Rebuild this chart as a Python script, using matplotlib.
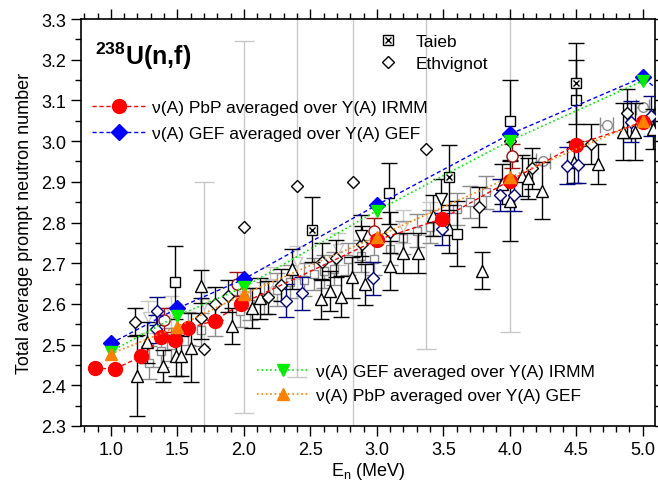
import numpy as np
import matplotlib.pyplot as plt
from matplotlib.lines import Line2D
from matplotlib.ticker import MultipleLocator

plt.rcParams['font.family'] = ['Liberation Sans', 'DejaVu Sans']
plt.rcParams['mathtext.fontset'] = 'custom'
plt.rcParams['mathtext.rm'] = 'Liberation Sans'
plt.rcParams['mathtext.bf'] = 'Liberation Sans:bold'

# ---- model curves ----
red_E = [0.88, 1.03, 1.23, 1.38, 1.48, 1.58, 1.78, 1.98, 3.0, 3.49, 4.0, 4.5, 5.0]
red_v = [2.442, 2.440, 2.471, 2.518, 2.512, 2.540, 2.559, 2.600, 2.757, 2.809, 2.903, 2.991, 3.046]
blue_E = [1.0, 1.5, 2.0, 3.0, 4.0, 5.0, 5.5]
blue_v = [2.503, 2.589, 2.661, 2.843, 3.017, 3.157, 3.02]
green_E = [1.0, 1.5, 2.0, 3.0, 4.0, 5.0]
green_v = [2.483, 2.571, 2.641, 2.829, 3.001, 3.148]
orange_E = [1.0, 1.5, 2.0, 3.0, 4.0, 5.0]
orange_v = [2.477, 2.544, 2.624, 2.765, 2.911, 3.050]

# ---- experimental data ----
tri_E = [1.20, 1.27, 1.39, 1.49, 1.53, 1.60, 1.68, 1.91, 2.06, 2.12, 2.36, 2.58, 2.65, 2.73,
         2.81, 2.91, 3.10, 3.20, 3.31, 3.42, 3.54, 3.79, 3.94, 4.00, 4.09, 4.14, 4.24, 4.48,
         4.66, 4.85, 4.94, 5.08]
tri_v = [2.424, 2.506, 2.447, 2.473, 2.472, 2.492, 2.643, 2.546, 2.590, 2.614, 2.686, 2.612,
         2.632, 2.618, 2.665, 2.648, 2.694, 2.725, 2.725, 2.817, 2.784, 2.682, 2.895, 2.854,
         2.915, 2.909, 2.878, 2.948, 2.944, 3.023, 3.023, 3.030]
tri_err = [0.10, 0.05, 0.04, 0.05, 0.05, 0.085, 0.04, 0.045, 0.05, 0.05, 0.05, 0.05, 0.05, 0.05,
           0.05, 0.05, 0.06, 0.05, 0.05, 0.05, 0.06, 0.045, 0.05, 0.10, 0.05, 0.05, 0.07, 0.05,
           0.05, 0.07, 0.07, 0.05]

sq_E = [1.48, 3.09, 3.60, 4.00, 4.50]
sq_v = [2.653, 2.872, 2.773, 3.050, 3.100]
sq_err = [0.09, 0.075, 0.08, 0.10, 0.10]

dia_E = [1.18, 1.68, 1.78, 1.88, 2.18, 2.28, 2.59, 2.69, 2.89, 3.10, 3.77, 4.17, 4.61, 4.88]
dia_v = [2.555, 2.565, 2.601, 2.619, 2.616, 2.646, 2.704, 2.712, 2.747, 2.776, 2.838, 2.933,
         2.993, 3.068]
dia_err = [0.035, 0.05, 0.04, 0.04, 0.04, 0.04, 0.045, 0.045, 0.045, 0.05, 0.05, 0.05, 0.05, 0.06]

navy_E = [1.34, 1.35, 2.32, 2.44, 2.97, 3.49, 3.93, 4.03, 4.43, 4.51, 4.91, 5.06]
navy_v = [2.538, 2.582, 2.608, 2.626, 2.663, 2.784, 2.868, 2.868, 2.940, 2.942, 3.048, 3.062]
navy_err = [0.035, 0.035, 0.04, 0.04, 0.04, 0.04, 0.04, 0.04, 0.045, 0.045, 0.05, 0.05]

gsq_E = [1.29, 1.38, 1.45, 1.58, 1.68, 1.78, 1.97, 2.05, 2.15, 2.25, 2.35, 2.45, 2.53, 2.60,
         2.68, 2.78, 2.88, 2.98, 3.10, 3.20, 3.30, 3.40, 3.60, 3.70, 3.82]
gsq_v = [2.456, 2.485, 2.500, 2.540, 2.537, 2.560, 2.583, 2.600, 2.615, 2.635, 2.655, 2.660,
         2.673, 2.680, 2.687, 2.710, 2.718, 2.710, 2.735, 2.763, 2.780, 2.790, 2.833, 2.850, 2.874]
gsq_err = [0.04] * len(gsq_E)

lg_E = [1.28, 1.45, 1.70, 2.00, 2.20, 2.40, 2.71, 3.20, 3.40]
lg_v = [2.568, 2.580, 2.600, 2.620, 2.650, 2.702, 2.735, 2.790, 2.810]
lg_err = [0.04] * len(lg_E)

gc_E = [4.25, 4.73, 5.00]
gc_v = [2.952, 3.040, 3.083]
gc_xerr = [0.05, 0.05, 0.05]

dr_E = [1.40, 1.95, 2.98, 4.02]
dr_v = [2.561, 2.649, 2.780, 2.963]
dr_err = [0.03, 0.03, 0.03, 0.03]

dtri_E = [2.88, 3.48]
dtri_v = [2.768, 2.858]
dtri_err = [0.05, 0.05]

eth_E = [1.70, 2.00, 2.40, 2.82, 3.37, 4.00]
eth_v = [2.49, 2.79, 2.89, 2.90, 2.98, 3.00]
eth_err = [0.41, 0.457, 0.47, 0.65, 0.49, 0.47]

tai_E = [2.51, 3.54, 4.50]
tai_v = [2.782, 2.911, 3.142]
tai_err = [0.08, 0.08, 0.10]

fig = plt.figure(figsize=(6.58, 4.85), dpi=100)
ax = fig.add_axes([0.123, 0.1196, 0.872, 0.839])

def eb(x, y, yerr=None, xerr=None, m='s', c='black', ec=None, ms=7, cap=6, z=2):
    ax.errorbar(x, y, yerr=yerr, xerr=xerr, fmt=m, mfc='white', mec=c, ecolor=ec or c,
                ms=ms, capsize=cap, elinewidth=1, capthick=1, mew=1, zorder=z)

eb(eth_E, eth_v, eth_err, m='none', ec='#c8c8c8', cap=7, z=1)
eb(lg_E, lg_v, lg_err, m='v', c='#c8c8c8', ms=7, z=2)
eb(gsq_E, gsq_v, gsq_err, m='s', c='#8c8c8c', ms=6, z=2)
eb(gc_E, gc_v, xerr=gc_xerr, m='o', c='#8c8c8c', ms=7, z=2)
eb(tri_E, tri_v, tri_err, m='^', c='black', ms=8, z=3)
eb(sq_E, sq_v, sq_err, m='s', c='black', ms=7, z=3)
eb(dia_E, dia_v, dia_err, m='D', c='black', ms=6, z=3)
eb(navy_E, navy_v, navy_err, m='D', c='#000080', ms=6, z=3)
eb(dr_E, dr_v, dr_err, m='o', c='#a01010', ms=8, z=3)
eb(dtri_E, dtri_v, dtri_err, m='v', c='black', ms=8, z=3)
ax.plot(eth_E, eth_v, 'D', mfc='white', mec='black', ms=6, zorder=4)
eb(tai_E, tai_v, tai_err, m='s', c='black', ms=7, z=4)
ax.plot(tai_E, tai_v, 'x', color='black', ms=5, mew=1, zorder=5)

ax.plot(red_E, red_v, '--', color='red', lw=1, dashes=(3, 2), marker='o', ms=10, zorder=6)
ax.plot(blue_E, blue_v, '--', color='blue', lw=1, dashes=(3, 2), marker='D', ms=8, zorder=6)
ax.plot(green_E, green_v, ':', color='#00ee00', lw=1.2, marker='v', ms=9, zorder=7)
ax.plot(orange_E, orange_v, ':', color='#ff8000', lw=1.2, marker='^', ms=9, zorder=8)

ax.set_xlim(0.775, 5.09)
ax.set_ylim(2.3, 3.3)
ax.xaxis.set_major_locator(MultipleLocator(0.5))
ax.xaxis.set_minor_locator(MultipleLocator(0.1))
ax.yaxis.set_major_locator(MultipleLocator(0.1))
ax.yaxis.set_minor_locator(MultipleLocator(0.05))
ax.xaxis.set_major_formatter(lambda v, p: f"{v:.1f}")
ax.yaxis.set_major_formatter(lambda v, p: f"{v:.1f}")
ax.tick_params(which='both', direction='out', top=True, right=True, labelsize=13, width=1)
ax.tick_params(which='major', length=7)
ax.tick_params(which='minor', length=4)
for s in ax.spines.values():
    s.set_linewidth(1.2)

ax.set_xlabel(r"E$_\mathrm{n}$ (MeV)", fontsize=13, labelpad=2)
ax.set_ylabel("Total average prompt neutron number", fontsize=13, labelpad=6)
ax.text(0.025, 0.91, r"$\mathbf{^{238}}$U(n,f)", transform=ax.transAxes, fontsize=18,
        fontweight='bold', va='center')

h_red = Line2D([], [], ls='--', dashes=(3, 2), color='red', lw=1, marker='o', ms=10)
h_blue = Line2D([], [], ls='--', dashes=(3, 2), color='blue', lw=1, marker='D', ms=8)
h_green = Line2D([], [], ls=':', color='#00ee00', lw=1.2, marker='v', ms=9)
h_orange = Line2D([], [], ls=':', color='#ff8000', lw=1.2, marker='^', ms=9)
h_tai = (Line2D([], [], ls='none', marker='s', mfc='white', mec='black', ms=7),
         Line2D([], [], ls='none', marker='x', color='black', ms=5))
h_eth = Line2D([], [], ls='none', marker='D', mfc='white', mec='black', ms=6)

leg1 = ax.legend([h_red, h_blue], ["ν(A) PbP averaged over Y(A) IRMM", "ν(A) GEF averaged over Y(A) GEF"],
                 loc='upper left', bbox_to_anchor=(0.005, 0.822), frameon=False, fontsize=12.5,
                 handlelength=3, handletextpad=0.4, labelspacing=0.6, borderpad=0)
ax.add_artist(leg1)
leg2 = ax.legend([h_tai, h_eth], ["Taieb", "Ethvignot"], loc='upper left',
                 bbox_to_anchor=(0.502, 0.985), frameon=False, fontsize=12.5,
                 handlelength=1.2, handletextpad=1.0, labelspacing=0.4, borderpad=0)
ax.add_artist(leg2)
ax.legend([h_green, h_orange], ["ν(A) GEF averaged over Y(A) IRMM", "ν(A) PbP averaged over Y(A) GEF"],
          loc='upper left', bbox_to_anchor=(0.292, 0.175), frameon=False, fontsize=12.5,
          handlelength=3, handletextpad=0.4, labelspacing=0.55, borderpad=0)

fig.savefig("out.png", dpi=100)
